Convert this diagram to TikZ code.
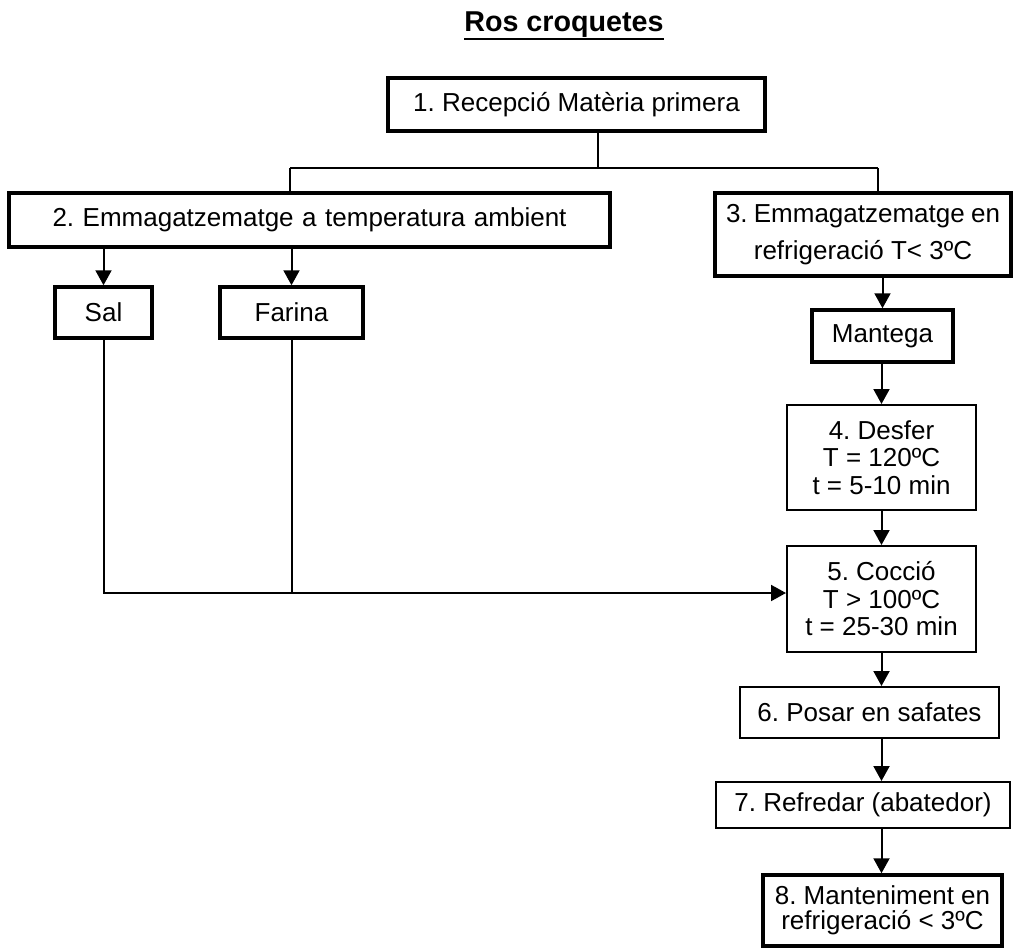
\documentclass[tikz,border=0pt]{standalone}
\usepackage{fontspec}
\setmainfont{Liberation Sans}
\usetikzlibrary{arrows.meta,calc}
\frenchspacing
\begin{document}
\begin{tikzpicture}[x=1pt,y=-1pt,
  every node/.style={font=\fontsize{26}{27.5}\selectfont, align=center, inner sep=0pt},
  heavybox/.style={draw, line width=3.5pt},
  lightbox/.style={draw, line width=2pt},
  link/.style={line width=2pt},
  flow/.style={line width=2pt, -{Triangle[width=16pt,length=15pt]}}]
\useasboundingbox (0,0) rectangle (1013,950);

% title
\node[font=\fontsize{28.7}{30}\selectfont\bfseries, anchor=base] (title) at (564,32) {Ros croquetes};
\draw[line width=2.8pt] ($(title.base west)+(0,7)$) -- ($(title.base east)+(0,7)$);

% process boxes
\node[heavybox, minimum width=377pt, minimum height=53pt] (recepcio) at (576.5,104.5) {1. Recepció Matèria primera};
\node[heavybox, minimum width=601pt, minimum height=54pt] (ambient) at (309.5,220) {\makebox[514pt][s]{2. Emmagatzematge a temperatura ambient}};
\node[heavybox, minimum width=296pt, minimum height=83pt] (fridge) at (863,234.5) {\makebox[274pt][s]{3. Emmagatzematge en}\\[9pt]refrigeració T< 3ºC};
\node[heavybox, minimum width=97pt, minimum height=51pt] (sal) at (103.5,312.5) {Sal};
\node[heavybox, minimum width=143pt, minimum height=51pt] (farina) at (291.5,312.5) {Farina};
\node[heavybox, minimum width=141pt, minimum height=52pt] (mantega) at (882.5,336) {Mantega};
\node[lightbox, minimum width=189pt, minimum height=105pt] (desfer) at (881.5,457.5) {4. Desfer\\T = 120ºC\\t = 5-10 min};
\node[lightbox, minimum width=189pt, minimum height=106pt] (coccio) at (881.5,599) {5. Cocció\\T > 100ºC\\t = 25-30 min};
\node[lightbox, minimum width=259pt, minimum height=51pt] (safates) at (869.5,712.5) {6. Posar en safates};
\node[lightbox, minimum width=294pt, minimum height=46pt] (refredar) at (863,805) {7. Refredar (abatedor)};
\node[heavybox, minimum width=239pt, minimum height=71pt, font=\fontsize{26}{25.5}\selectfont] (manteniment) at (882.5,910.5) {8. Manteniment en\\refrigeració < 3ºC};

% branching under step 1
\coordinate (split) at (598,168);
\coordinate (dropA) at (290,168);
\coordinate (dropB) at (878,168);
\draw[link] (recepcio.south -| split) -- (split);
\draw[link] (dropA) -- (dropB);
\draw[link] (dropA) -- (dropA |- ambient.north);
\draw[link] (dropB) -- (dropB |- fridge.north);

% ingredients
\draw[flow] (sal.north |- ambient.south) -- (sal.north);
\draw[flow] (farina.north |- ambient.south) -- (farina.north);
\draw[flow] (mantega.north |- fridge.south) -- (mantega.north);

% main line
\coordinate (spine) at (881.5,0);
\draw[flow] (spine |- mantega.south) -- (desfer.north);
\draw[flow] (desfer.south) -- (coccio.north);
\draw[flow] (coccio.south) -- (spine |- safates.north);
\draw[flow] (spine |- safates.south) -- (spine |- refredar.north);
\draw[flow] (spine |- refredar.south) -- (spine |- manteniment.north);

% dry ingredients into cooking
\coordinate (feed) at (104,593);
\draw[flow] (sal.south) |- (coccio.west |- feed);
\draw[link] (farina.south) -- (farina.south |- feed);
\end{tikzpicture}
\end{document}
